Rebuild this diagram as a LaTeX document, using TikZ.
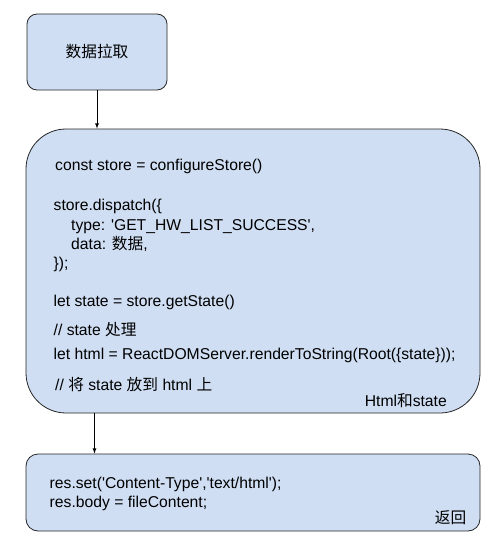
\documentclass[tikz,border=0pt]{standalone}
\usepackage{fontspec}
\setmainfont{Liberation Sans}[Ligatures=TeXOff]
\newfontfamily\cjk{Noto Sans CJK SC}
\usetikzlibrary{positioning}
\definecolor{boxblue}{RGB}{207,222,243}
\tikzset{
  stage/.style={draw=black!85,fill=boxblue,line width=0.8pt},
  code/.style={anchor=base west,inner sep=0pt,font=\fontsize{15.7}{19}\selectfont},
  tag/.style={anchor=base east,inner sep=0pt,font=\fontsize{15.7}{19}\selectfont},
  flow/.style={-latex,line width=0.8pt}
}

\begin{document}
\begin{tikzpicture}[x=1pt,y=-1pt]
                \useasboundingbox (0,0) rectangle (495,543);
                \node[stage,rounded corners=10pt,minimum width=140pt,minimum height=76pt,
                      font=\fontsize{15.7}{19}\selectfont\cjk](fetch) at (97,52){数据拉取};
                \node[stage,rounded corners=40pt,minimum width=454pt,minimum height=284pt](render) at (253,271){};
                \node[stage,rounded corners=12pt,minimum width=454pt,minimum height=77pt](resp) at (253,492.5){};
                % render step
                \node[code](l1) at (55,170){const store = configureStore()};
                \node[code](l2) at (53.5,210.5){store.dispatch(\{};
                \node[code](l3) at (71,230){type: 'GET\_HW\_LIST\_SUCCESS',};
                \node[code](l4) at (71,249){data: {\cjk 数据},};
                \node[code](l5) at (53.5,268){\});};
                \node[code](l6) at (53.5,306){let state = store.getState()};
                \node[code](l7) at (53.5,335){// state {\cjk 处理}};
                \node[code](l8) at (53.5,359){let html = ReactDOMServer.renderToString(Root(\{state\}));};
                \node[code](l9) at (55,390){// {\cjk 将} state {\cjk 放到} html {\cjk 上}};
                \node[tag](rendertag) at (447,406){Html{\cjk 和}state};
                % response step
                \node[code](r1) at (49.5,488){res.set('Content-Type','text/html');};
                \node[code](r2) at (49.5,507){res.body = fileContent;};
                \node[tag](resptag) at (466.5,523){\cjk 返回};
                \draw[flow](fetch.south) -- (fetch.south |- render.north);
                \draw[flow]([xshift=-158.5pt]render.south) -- ([xshift=-158.5pt]resp.north);
            \end{tikzpicture}
\end{document}
